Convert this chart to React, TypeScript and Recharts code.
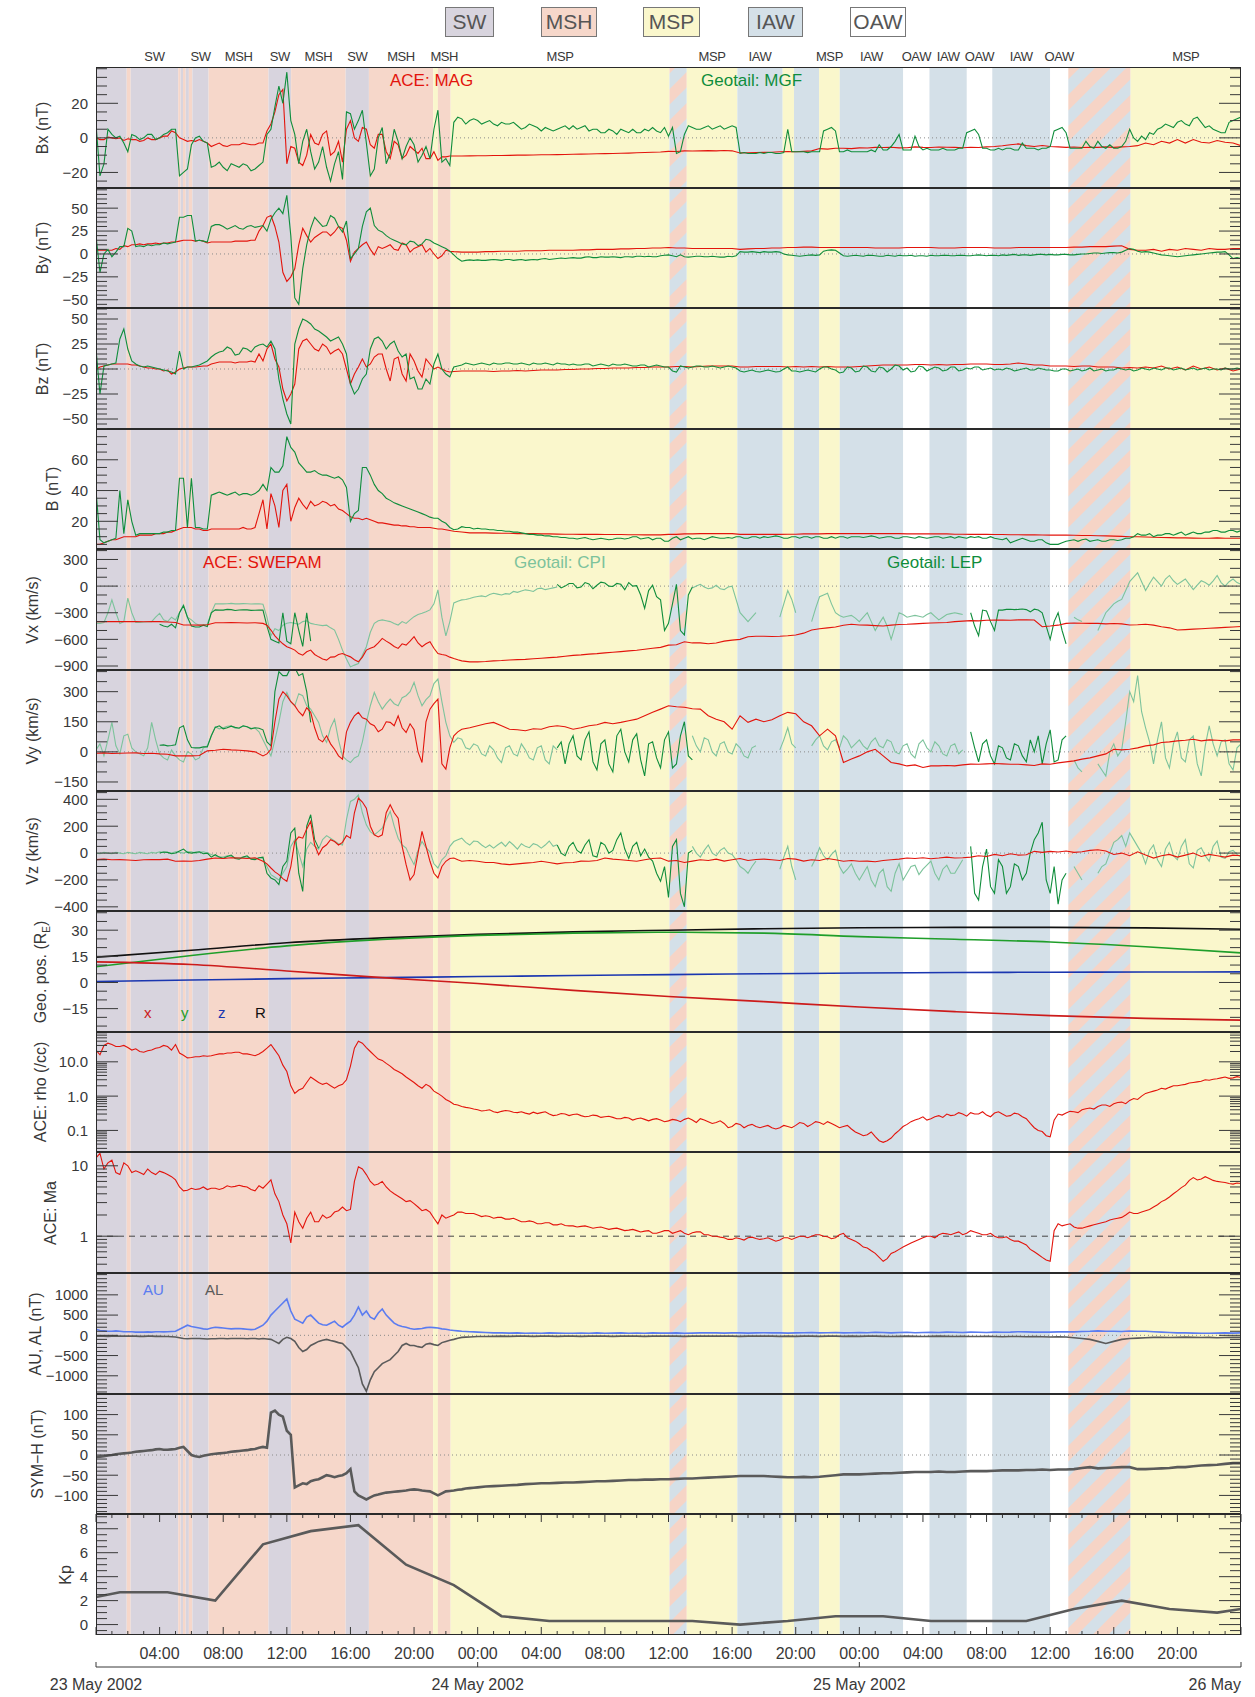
import React from "react";
import { LineChart, Line, XAxis, YAxis, ReferenceArea, ReferenceLine } from "recharts";

const W = 1255;
const PLOT_L = 96;
const PLOT_R = 1241;
const TOP0 = 67;
const PANEL_H = 120.6;
const FONT = "'Liberation Sans', Arial, sans-serif";
const INK = "#383838";

const RED = "#e3140c";
const GREEN = "#0f8d3b";
const LIGHT_GREEN = "#7dc39c";
const AU_BLUE = "#5b7cf0";
const GRAY_LINE = "#5a5a5a";

const BG: Record<string, string> = {
  SW: "#d8d4de",
  MSH: "#f6d7ca",
  MSP: "#faf7cc",
  IAW: "#d4e0e8",
  OAW: "#ffffff",
  MIX: "url(#mixHatch)",
};

// [kind, start hour, end hour, labelled]
const REGIONS: [string, number, number, boolean][] = [
  ["SW", 0, 1.93, false], ["MSH", 1.93, 2.18, false], ["SW", 2.18, 5.17, true],
  ["MSH", 5.17, 5.32, false], ["SW", 5.32, 5.47, false], ["MSH", 5.47, 5.64, false],
  ["SW", 5.64, 5.84, false], ["MSH", 5.84, 6.06, false], ["SW", 6.06, 7.08, true],
  ["MSH", 7.08, 10.85, true], ["SW", 10.85, 12.27, true], ["MSH", 12.27, 15.7, true],
  ["SW", 15.7, 17.16, true], ["MSH", 17.16, 21.2, true], ["MSP", 21.2, 21.5, false],
  ["MSH", 21.5, 22.3, true], ["MSP", 22.3, 36.06, true], ["MIX", 36.06, 37.15, false],
  ["MSP", 37.15, 40.33, true], ["IAW", 40.33, 43.18, true], ["MSP", 43.18, 43.89, false],
  ["IAW", 43.89, 45.47, false], ["MSP", 45.47, 46.77, true], ["IAW", 46.77, 50.76, true],
  ["OAW", 50.76, 52.41, true], ["IAW", 52.41, 54.76, true], ["OAW", 54.76, 56.36, true],
  ["IAW", 56.36, 60.0, true], ["OAW", 60.0, 61.14, true], ["MIX", 61.14, 65.06, false],
  ["MSP", 65.06, 72, true],
];

// half-hour sample times, 23 May 00:00 .. 26 May 00:00; *_MID arrays hold the quarter-past values
const HOURS = Array.from({ length: 145 }, (_, i) => i / 2);
const HOUR_TICKS = Array.from({ length: 73 }, (_, i) => i);
const DATE_TICKS = [0, 24, 48, 72];
const DATE_LABELS = ["23 May 2002", "24 May 2002", "25 May 2002", "26 May"];
const _ = null;

const BX_ACE = [
  0, -1, 0, 0, -0.5, -1, -1.5, -1, 0, 1, 3, -1,
  -1.5, -1, -3, -4, -4.5, -4, -4, -3.5, -4, -3, 8, 25,
  -15, -6, -16, 2, -4, 4, -8, -14, 10, -2, 5, -6,
  2, -12, -4, -10, -7, -6, -12, -13, -11, -10.5, -10.5, -10.4,
  -10.3, -10.3, -10.2, -10.2, -10.1, -10, -10, -9.9, -9.8, -9.8, -9.7, -9.6,
  -9.5, -9.4, -9.3, -9.2, -9.1, -9, -8.9, -8.8, -8.6, -8.5, -8.3, -8.2,
  -7.8, -7.9, -7.5, -7.6, -7.5, -7.4, -7.5, -7.3, -7.5, -8.7, -8.6, -8.5,
  -8.4, -8.3, -8, -7.9, -8, -7.8, -7.5, -6.2, -6.5, -6, -6, -6.2,
  -5.8, -5.9, -5.5, -5.6, -5.4, -5.8, -5.7, -5.2, -5.5, -5.6, -5.3, -5.4,
  -5.5, -5.7, -5.4, -5.6, -5.2, -5, -4.6, -4, -3.5, -4.5, -5, -4.4,
  -5, -5.2, -5.5, -5.3, -5.6, -5.4, -5.5, -5.2, -5.5, -5.2, -5, -4.5,
  -3, -4, -2, -3, -1, -3, -1, -2.5, -3, -1.5, -2.5, -3,
  -4.5,
];
const BX_ACE_MID = [
  -1, 0.5, -0.5, -1.5, -1, -2, 0, -1, 1, 4, 0, -2,
  -2, -2, -5, -3, -5, -4, -3, -4, -3, 4, 15, 28,
  -5, -14, -10, -3, 2, -10, -2, 5, 0, 6, -4, 2,
  -8, -2, -12, -5, -9, -12, -8, -11, -10.5,
];
const BX_GEO = [
  8, -15, 2, 1, -8, 1, 0, 2, 0, 3, 5, -20,
  -4, 1, -3, -16, -17, -15, -17, -16, -18, -14, 5, 30,
  38, 2, -2, -8, -14, -17, -15, -24, 14, 10, -3, -18,
  6, -9, -2, -5, -4, -10, -12, 16, -12, 9, 11, 10,
  10, 9, 8, 9, 8, 7, 6, 7, 4, 5, 5, 7,
  7, 6, 4, 5, 3, 4, 5, 3, 3, 5, 6, 3,
  1, -9, 2, 6, 5, 7, 6, 5, 7, -9, -9, -9,
  -9, -8.5, -9, 5, -8, -8, -8, -8, 5, 4, -8, -8,
  -8, -8, -8, -7, -5, 2, -7, 1, -7, -7, -7, -7,
  -7, -6, 4, 2, -6, -7, -7, -6, -7, -6, -6, -6,
  -5, 5, 3, -6, -6, -5, -2, -6, -6, -5, 5, -2,
  -1, 2, 6, 7, 9, 8, 11, 9, 7, 4, 3, 10,
  12,
];
const BX_GEO_MID = [
  -22, 5, 0, -3, 2, -1, 2, -1, 2, 5, -22, -18,
  0, -2, -17, -14, -19, -16, -15, -19, -16, 2, 18, 20,
  10, -15, 5, -18, -5, -25, -8, 15, 5, 16, -22, 0,
  -15, 5, -12, 0, -14, -5, 5, -14, -16, 12, 8, 11,
  8, 10, 7, 8, 9, 5, 8, 6, 6, 4, 6, 5,
  5, 7, 5, 3, 5, 2, 4, 5, 3, 4, 4, 6,
  6, -8, 7, 5, 6, 5, 7, 6, 6, -8.5, -9, -8.5,
  -8.5, -9, -8.5, -8, -8, -8.5, -8, 4, 6, -8, -7, -8,
  -8, -7, -4, -7, -2, -7, -7, -5, -6, -7, -6, -7,
  -6, 3, 5, -6, -7, -6, -6, -7, -3, -6, -7, -6,
  4, 6, -6, -6, -2, -6, -5, -4, -6, -2, 0, 1,
  3, 5, 8, 6, 10, 7, 12, 6, 5, 3, 9, 11,
];
const BY_ACE = [
  4, 4, 4, 5, 8, 10, 10, 11, 11, 12, 13, 15,
  15, 15, 12, 13, 13, 13, 14, 14, 15, 31, 42, 13,
  -30, -16, 28, 13, 21, 24, 24, 28, -8, 6, 13, -1,
  6, 10, 4, 10, 6, 10, 6, -5, 4, 2.5, 2, 2,
  2, 2.5, 2.5, 3, 3, 3, 3.5, 3.5, 3.5, 4, 4, 4,
  4, 4.5, 4.5, 5, 5, 5, 5.5, 5.5, 6, 6, 6.5, 6.5,
  7, 6.5, 6.5, 6, 6, 6, 6, 6, 6, 5, 5.5, 6,
  6, 6.5, 6.5, 7, 7, 7.5, 7.5, 7, 7, 7, 7, 7,
  7, 7, 6.5, 6.5, 6.5, 6.5, 7, 7, 7, 7, 6.5, 6.5,
  6.5, 7, 7, 7, 7, 6.5, 6.5, 6.5, 7, 7, 7, 7,
  7, 7, 7, 7.5, 7.5, 8, 8, 8, 8.5, 9, 5, 4,
  4, 5, 3, 5, 4, 6, 5, 4, 6, 5, 5, 6,
  6,
];
const BY_ACE_MID = [
  4, 4, 6, 9, 10, 11, 11, 12, 12, 13, 14, 15,
  14, 14, 13, 13, 13, 14, 14, 15, 25, 40, 30, -20,
  -25, 10, 20, 18, 24, 20, 30, 15, 2, 10, 5, 8,
  8, 5, 12, 2, 8, 2, 0, -2, 3,
];
const BY_GEO = [
  20, 0, -3, 8, 28, 8, 8, 9, 10, 11, 13, 40,
  42, 15, 13, 32, 30, 29, 28, 30, 29, 31, 38, 50,
  64, -48, -16, 28, 35, 31, 39, 24, -5, 6, 46, 31,
  24, 17, 13, 10, 13, 11, 15, 10, 6, -1, -8, -6.5,
  -6.5, -7, -6, -7, -6, -6.5, -7, -6, -5.5, -6, -5, -5,
  -4, -4.5, -3, -4, -3.5, -3, -4, -3, -2.5, -3, -3, -2,
  -1, -3, -3, -3, -2.5, -3, -3, -3.5, -3, 2.5, 2, 2,
  2.5, 2, 2, -1, -2, -2, -1, -1, 4, 4, -2, -2,
  -2, -1.5, -2, -2.5, -2, -1.5, -2, -2.5, -2, -1.5, -2, -1.5,
  -2, -1.5, -2, -1, -2, -1.5, -1, -1, -1.5, -1, -1, -0.5,
  -0.5, -1, -0.5, -1, 0, 0.5, 1, 1, 1.5, 2, 6, 3,
  2.5, 1, -1, -2, -3, -2, -1, 0, 1, 2, 2.5, -5,
  -5,
];
const BY_GEO_MID = [
  -20, 5, 2, 8, 25, 9, 10, 10, 12, 12, 40, 42,
  14, 14, 30, 32, 27, 31, 27, 31, 30, 25, 45, 44,
  20, -55, 10, 40, 30, 42, 30, 36, 0, 30, 50, 26,
  20, 15, 11, 14, 9, 16, 12, 8, 3, -5, -7, -7,
  -7, -6.5, -6.5, -6, -7, -6, -6.5, -6.5, -5, -5.5, -4.5, -4.5,
  -4.5, -3.5, -4, -3, -3.5, -3.5, -3, -3.5, -2.5, -2.5, -3, -1.5,
  -2, -1, -3.5, -2.5, -3, -2.5, -3.5, -2.5, -2, 2, 2.5, 1.5,
  2, 2.5, 0, -1.5, -2.5, -1.5, -1.5, 3, 4.5, 1, -2.5, -1.5,
  -2.5, -1.5, -2.5, -1.5, -2.5, -2, -1.5, -2, -2.5, -2, -1.5, -2,
  -1.5, -2, -1.5, -1.5, -1.5, -2, -1.5, -0.5, -1, -1.5, -0.5, -1,
  -1, -0.5, -1, -0.5, 0, 1, 0.5, 1.5, 1, 4, 5, 2,
  2, 0, -1.5, -2.5, -2.5, -1.5, -0.5, 0.5, 1.5, 2, -1, -4,
];
const BZ_ACE = [
  0, 3, 5, 5, 5, 4, 2, 1, 0, -1, -3, 1,
  2, 2.5, 3, 6, 7, 7, 7, 7, 7, 8, 25, 2,
  -32, -15, 28, 25, 18, 22, 18, 15, -15, 2, 2, 12,
  15, -12, 12, -12, 8, -8, 5, 2, -2, -2.5, -2, -2,
  -2, -2, -2.5, -2, -2, -1.5, -2, -1.5, -1, -1, -1, -0.5,
  -0.5, 0, 0, 0.5, 0.5, 1, 1, 1, 1.5, 1.5, 2, 2,
  2, 2.5, 2.5, 2, 2.5, 3, 3, 3, 3, 2, 2, 2.5,
  2.5, 2.5, 2.5, 2, 2.5, 2, 2.5, 2, 2.5, 2, 2, 2,
  2.5, 3, 3.5, 4, 4, 4, 4, 4.5, 4.5, 4, 4.5, 4,
  4.5, 4.5, 5, 5, 5, 4.5, 4.5, 5, 6, 5, 4, 4,
  3, 3, 3, 2.5, 3, 3, 2, 2, 2, 1, 1.5, 1,
  2, 1, 3, 0, 2, -1, 3, 0, 2, -1, 1, -2,
  0,
];
const BZ_ACE_MID = [
  2, 4, 5, 5, 4, 3, 1, 0, -2, -5, 0, 2,
  2, 3, 5, 7, 7, 6, 7, 8, 15, 20, 10, -20,
  -25, 20, 30, 20, 25, 15, 20, 0, -5, 10, 5, 15,
  0, 10, -5, 15, -2, 10, 0, 0, -3,
];
const BZ_GEO = [
  20, 3, 5, 30, 20, 5, 2, 2, 0, -2, -5, 0,
  2, 4, 8, 15, 18, 20, 15, 20, 22, 25, 28, -10,
  -45, 25, 50, 45, 38, 32, 30, 25, -15, -20, -5, 30,
  28, 25, 18, 15, -8, -20, -15, 15, -5, 2, 4, 5,
  5, 5, 6, 5, 6, 5, 5, 6, 5, 5, 6, 5,
  5, 4, 5, 4, 4, 5, 4, 4, 3, 4, 3, 3,
  2, -3, 2, 2, 3, 2, 2, 2, 2, -2, -2, -2.5,
  -2, -2, -2.5, 2, -2, -2, -2, 0, 2, -1, -3, 1,
  -2, 2, -3, 1, 0, 3, 1, -2, 2, 0, 1, -1,
  2, -1, 0, 2, 0, -1, -1, 0, -1, 1, -1, 0,
  -1, -2, 0, -1, -2, 1, -1, -2, -1, 0, 0, -1,
  0, 1, -1, 1, 0, -1, 1, 0, -1, 0, 1, 0,
  0,
];
const BZ_GEO_MID = [
  -25, 4, 6, 40, 8, 3, 3, 1, -1, -3, 18, 2,
  3, 6, 12, 17, 22, 14, 21, 17, 24, 22, 20, -30,
  -55, 40, 48, 40, 35, 28, 32, 15, -25, -10, 20, 32,
  20, 28, 12, -10, -20, -10, 5, 0, -8, 3, 6, 4,
  6, 4, 5, 6, 5, 6, 4, 5, 6, 4, 5, 4,
  4, 5, 3, 5, 3, 4, 5, 3, 4, 2, 4, 2,
  -2, 3, 1, 3, 2, 3, 1, 3, 1, -3, -1, -3,
  -1, -3, 0, -2, -3, -1, -3, 2, 0, -4, 2, -3,
  3, -2, 2, -3, 4, -1, -3, 3, -2, 2, -2, 2,
  -2, 1, 2, -1, 1, 0, 1, -2, 0, -1, 1, -1,
  -2, 0, -2, 0, -1, -2, 0, -1, 1, -1, -2, 1,
  -1, 0, 1, -1, 1, 0, -1, 1, 0, -1, 0, 1,
];
const B_ACE = [
  5, 6, 8, 9, 10, 10, 11, 11, 12, 13, 14, 16,
  16, 15, 14, 15, 15, 15, 15, 15, 16, 34, 38, 16,
  44, 29, 31, 33, 31, 32, 31, 27, 23, 22, 22, 20,
  19, 18, 17.5, 17, 16.5, 16, 16, 15, 14.5, 13.5, 13, 12.5,
  12.5, 12.5, 12.3, 12.2, 12.2, 12, 12, 12, 11.8, 11.8, 11.7, 11.6,
  11.6, 11.5, 11.5, 11.5, 11.4, 11.4, 11.4, 11.3, 11.3, 11.2, 11.2, 11.2,
  11.5, 11.5, 11.8, 11.8, 12, 12, 12, 12, 12, 11.5, 11.5, 11.5,
  11.5, 11.5, 11.5, 11.6, 11.6, 11.8, 11.8, 11.8, 12, 12, 12, 12,
  12, 12, 12, 12, 12, 12, 11.8, 11.8, 11.8, 11.8, 11.8, 11.8,
  11.6, 11.6, 11.5, 11.5, 11.5, 11.4, 11.4, 11.3, 11.3, 11.2, 11.2, 11.1,
  11, 11, 11, 10.9, 10.8, 10.8, 10.6, 10.5, 10.4, 10.2, 10, 10,
  9.8, 9.6, 9.5, 9.4, 9.2, 9.2, 9.1, 9, 9, 9.2, 9, 9,
  9,
];
const B_ACE_MID = [
  5, 7, 8, 10, 10, 11, 11, 12, 12, 13, 15, 16,
  15, 14, 15, 15, 15, 15, 16, 15, 25, 15, 30, 40,
  20, 35, 28, 30, 33, 30, 28, 25, 22, 21, 21, 19,
  18.5, 17.5, 17, 16.5, 16, 16, 15.5, 15, 14,
];
const B_GEO = [
  40, 6, 8, 40, 34, 11, 12, 12, 12, 13, 14, 48,
  48, 16, 15, 38, 38, 38, 37, 38, 38, 44, 55, 52,
  75, 65, 55, 52, 51, 50, 48, 47, 20, 27, 55, 44,
  38, 33.6, 31, 29, 27, 25, 22.7, 22, 18.7, 14.5, 16.5, 16,
  15.5, 15, 14.5, 14, 13.5, 13, 12, 11.5, 11, 10.5, 10, 9.5,
  9, 9, 8.7, 8.5, 8.5, 8.3, 9, 9, 10, 9, 8, 9,
  7, 10, 9, 8.5, 9, 9, 9.5, 9, 9, 10, 9, 10,
  10, 10, 10, 9, 10, 10, 9, 10, 9, 9, 10, 10,
  10, 10, 10, 9.5, 10, 9, 10, 9, 9.5, 9.5, 10, 9.5,
  9, 9.5, 10, 10, 9, 9, 8, 6, 8, 8, 7, 8,
  5, 5, 7, 8, 8, 7, 8, 7, 8, 8, 9, 12,
  11, 10, 11, 12, 12, 11, 13, 12, 13, 14, 13, 14,
  14,
];
const B_GEO_MID = [
  8, 7, 9, 12, 20, 12, 12, 12, 13, 14, 48, 16,
  16, 15, 37, 39, 37, 39, 38, 37, 40, 40, 52, 56,
  68, 58, 52, 53, 50, 49, 49, 42, 25, 55, 50, 40,
  35, 32, 30, 28, 26, 24, 22, 20, 16, 15, 16, 15,
  15, 14.5, 14, 13.5, 13, 12.5, 11.5, 11, 10.5, 10, 9.5, 9,
  8.5, 9.5, 8, 9, 8, 9, 8.5, 10, 8.5, 9.5, 9, 7,
  9, 8, 10, 9, 8, 10, 9, 9.5, 10, 9, 10, 9,
  9.5, 10.5, 9, 10, 9, 10, 10, 9, 10, 10, 9, 10,
  9.5, 10.5, 9, 10, 9, 10, 9.5, 10, 9, 10, 9, 10,
  10, 9, 9.5, 9, 10, 8.5, 9, 7, 9, 7, 8, 6,
  5, 6, 7.5, 7, 8.5, 7.5, 7, 8, 7.5, 9, 10, 11,
  12, 11, 12, 11, 13, 12, 12, 13, 14, 13, 14, 13,
];

const VX_ACE = [
  -400, -400, -400, -400, -400, -400, -402, -400, -400, -405, -410, -438,
  -438, -440, -435, -412, -412, -410, -412, -415, -412, -420, -495, -608,
  -683, -721, -778, -721, -797, -834, -797, -759, -797, -853, -721, -683,
  -589, -646, -702, -665, -570, -683, -627, -759, -778, -816, -842, -853,
  -853, -850, -842, -838, -832, -828, -825, -818, -812, -806, -800, -790,
  -780, -775, -766, -760, -752, -745, -738, -730, -722, -712, -700, -690,
  -665, -660, -627, -640, -640, -650, -640, -620, -608, -600, -570, -565,
  -565, -568, -565, -560, -551, -530, -495, -480, -470, -460, -440, -430,
  -438, -440, -445, -450, -440, -432, -430, -425, -420, -415, -412, -410,
  -400, -395, -389, -392, -385, -383, -381, -385, -380, -380, -382, -457,
  -450, -440, -420, -415, -418, -420, -420, -425, -422, -425, -438, -435,
  -430, -440, -457, -470, -495, -490, -485, -480, -475, -470, -465, -460,
  -455,
];
const VX_ACE_MID = [
  _, _, _, _, _, _, _, _, _, _, _, _,
  _, _, _, _, _, _, _, _, _, -440, -560, -650,
  -700, -760, -740, -770, -820, -800, -770, -780, -830, -800, -700, -640,
  -620, -680, -650, -620, -640, -650, -700, -770, -800, -830,
];
const VX_LEP = [
  _, _, _, _, _, _, _, _, -430, -460, -470, -220,
  -450, -460, -455, -268, -270, -265, -270, -268, -272, -270, -600, -640,
  -620, -300, -680, -620, _, _, _, _, _, _, _, _,
  _, _, _, _, _, _, _, _, _, _, _, _,
  _, _, _, _, _, _, _, _, _, _, 20, 0,
  30, -10, 25, 10, 35, -5, 20, 40, 5, -250, 10, -155,
  -420, 20, -550, -10, _, _, _, _, _, _, _, _,
  _, _, _, _, _, _, _, _, _, _, _, _,
  _, _, _, _, _, _, _, _, _, _, _, _,
  _, _, -300, -560, -280, -500, -270, -260, -262, -265, -260, -300,
  -600, -300, -650, _, _, _, _, _, _, _, _, _,
  _, _, _, _, _, _, _, _, _, _, _, _,
  _,
];
const VX_LEP_MID = [
  _, _, _, _, _, _, _, _, -450, -430, -300, -350,
  -460, -440, -300, -270, -262, -275, -266, -273, -270, -450, -620, -300,
  -650, -500, -300, _, _, _, _, _, _, _, _, _,
  _, _, _, _, _, _, _, _, _, _, _, _,
  _, _, _, _, _, _, _, _, _, _, -20, 30,
  -20, 40, -30, 45, 0, 30, -40, 0, -100, -50, -120, -500,
  -200, -500, -100, _, _, _, _, _, _, _, _, _,
  _, _, _, _, _, _, _, _, _, _, _, _,
  _, _, _, _, _, _, _, _, _, _, _, _,
  _, _, -450, -270, -400, -270, -262, -265, -258, -290, -270, -450,
  -400, -500,
];
const VX_CPI = [
  -420, -410, -155, -420, -136, -410, -405, -400, -306, -400, -380, -212,
  -380, -440, -430, -200, -200, -195, -200, -198, -200, -205, -560, -500,
  -419, -420, -400, -420, -438, -440, -495, -721, -910, -872, -683, -419,
  -381, -400, -438, -420, -344, -306, -268, -42, -560, -190, -155, -140,
  -117, -120, -80, -100, -90, -70, -42, -60, -23, -30, -10, _,
  _, _, _, _, _, _, _, _, _, _, _, _,
  _, _, _, -20, 20, -30, 10, -40, 0, -300, -400, -300,
  _, _, -350, -50, -300, _, -400, -120, -80, -300, -350, -330,
  -400, -300, -500, -350, -600, -300, -350, -330, -350, -300, -380, -320,
  -300, -320, _, _, _, _, _, _, _, _, _, _,
  _, _, _, -350, -400, _, -500, -300, -200, -150, 50, 150,
  -50, 100, 0, 120, 20, 80, -40, 60, 10, 120, 0, 80,
  20,
];
const VX_CPI_MID = [
  -420, -300, -300, -400, -300, -408, -402, -350, -380, -350, -300, -350,
  -420, -435, -300, -200, -198, -200, -197, -202, -199, -350, -480, -440,
  -410, -430, -390, -430, -445, -470, -600, -820, -890, -780, -520, -390,
  -390, -420, -400, -380, -320, -290, -200, -350, -400, -170, -150, -125,
  -110, -95, -90, -85, -60, -55, -50, -30, -40, -20, _, _,
  _, _, _, _, _, _, _, _, _, _, _, _,
  _, _, _, 0, -10, -20, -30, -10, -150, -350, -350, _,
  _, _, -200, -150, _, _, -250, -100, -200, -330, -340, -360,
  -350, -400, -420, -450, -450, -320, -340, -340, -320, -340, -350, -310,
  -310, _, _, _, _, _, _, _, _, _, _, _,
  _, _, _, -380, _, _, -400, -250, -170, -50, 100, 50,
  30, 50, 80, 60, 50, 20, 10, 40, 60, 40, 50, 40,
];

const VY_ACE = [
  -7, -5, -8, -7, -6, -5, -8, -7, -10, -12, -20, -20,
  -20, -18, 5, 8, 13, 10, 8, 5, 0, -20, 13, 263,
  280, 230, 180, 197, 63, 80, 13, -36, 147, 197, 163, 130,
  113, 147, 180, 97, 110, -53, 213, 263, -86, 80, 113, 120,
  130, 140, 147, 130, 113, 110, 105, 115, 113, 125, 130, 125,
  113, 120, 130, 135, 147, 140, 147, 155, 163, 180, 197, 213,
  230, 225, 222, 215, 213, 180, 163, 150, 113, 180, 147, 163,
  150, 160, 180, 197, 190, 150, 130, 80, 113, 80, -53, -36,
  -20, 0, 13, -20, -53, -60, -70, -65, -78, -70, -70, -68,
  -70, -65, -61, -62, -60, -58, -60, -62, -62, -65, -68, -60,
  -62, -55, -50, -45, -36, -30, -20, -10, 13, 10, 13, 20,
  30, 35, 47, 50, 55, 58, 63, 55, 60, 58, 55, 60,
  60,
];
const VY_ACE_MID = [
  _, _, _, _, _, _, _, _, _, _, _, _,
  _, _, _, _, _, _, _, _, _, -10, 150, 300,
  250, 200, 220, 120, 50, 40, -20, 100, 180, 170, 140, 100,
  150, 130, 120, 140, 0, 150, 240, -60, 20, 100,
];
const VY_LEP = [
  _, _, _, _, _, _, _, _, 33, 30, 35, 130,
  22, 20, 25, 122, 115, 128, 118, 125, 120, 110, 30, 400,
  380, 420, 390, 147, _, _, _, _, _, _, _, _,
  _, _, _, _, _, _, _, _, _, _, _, _,
  _, _, _, _, _, _, _, _, _, _, 20, -60,
  80, -40, 100, -90, 60, -100, 113, -50, 90, -120, 50, -80,
  100, -60, 150, -40, _, _, _, _, _, _, _, _,
  _, _, _, _, _, _, _, _, _, _, _, _,
  _, _, _, _, _, _, _, _, _, _, _, _,
  _, _, 100, -50, 60, -60, 20, -40, 30, -50, 0, -60,
  110, -40, 80, _, _, _, _, _, _, _, _, _,
  _, _, _, _, _, _, _, _, _, _, _, _,
  _,
];
const VY_LEP_MID = [
  _, _, _, _, _, _, _, _, 35, 32, 120, 60,
  20, 25, 80, 130, 120, 122, 130, 115, 118, 50, 300, 380,
  420, 380, 300, _, _, _, _, _, _, _, _, _,
  _, _, _, _, _, _, _, _, _, _, _, _,
  _, _, _, _, _, _, _, _, _, _, 50, 40,
  -20, 60, -50, 40, -60, 80, 0, 60, -40, 40, -30, 60,
  -80, 80, -20, _, _, _, _, _, _, _, _, _,
  _, _, _, _, _, _, _, _, _, _, _, _,
  _, _, _, _, _, _, _, _, _, _, _, _,
  _, _, 20, 40, -20, 30, -30, 40, -20, 60, 80, 40,
  -50, 60,
];
const VY_CPI = [
  10, -20, 147, -10, 88, 0, -20, 147, -10, -40, -20, -50,
  -10, -30, 30, 125, 120, 130, 120, 125, 118, 60, -20, 147,
  296, 230, 280, 213, 147, 47, 163, -20, -53, -20, 147, 296,
  213, 263, 230, 280, 346, 230, 280, 363, 147, 47, 63, 13,
  30, -20, 10, -53, 30, -20, 10, -40, 30, -60, 10, _,
  _, _, _, _, _, _, _, _, _, _, _, _,
  _, _, _, 80, 0, 60, -20, 50, -10, 20, -30, 30,
  _, _, 10, 120, 20, _, 30, 80, 10, 60, 80, 20,
  60, 13, 70, 20, 50, -10, 40, -30, 60, 0, 30, -20,
  40, 10, _, _, _, _, _, _, _, _, _, _,
  _, _, _, -40, -100, _, -60, -120, 40, 10, 300, 380,
  120, -60, 150, -80, 100, -50, 80, -120, 130, -20, 60, -90,
  40,
];
const VY_CPI_MID = [
  40, 60, 30, 80, 20, -10, 20, 60, -30, 10, -40, 0,
  -40, 20, 80, 115, 128, 118, 128, 118, 100, 20, 60, 250,
  250, 290, 230, 180, 80, 120, 60, -40, -30, 50, 230, 250,
  240, 240, 270, 300, 280, 260, 340, 250, 80, 70, 20, 40,
  -10, 30, -30, 20, -10, 40, -30, 20, -40, 30, _, _,
  _, _, _, _, _, _, _, _, _, _, _, _,
  _, _, _, 30, 70, 0, 40, 0, 40, -20, 20, _,
  _, _, 60, 40, _, _, 60, 30, 50, 20, 60, 40,
  30, 50, 30, 60, 0, 30, -10, 40, 20, 50, -10, 30,
  -10, _, _, _, _, _, _, _, _, _, _, _,
  _, _, _, -80, _, _, -90, 0, -20, 150, 250, 200,
  50, 60, -30, 40, -30, 60, -60, 30, 40, 50, -60, 20,
];

const VZ_ACE = [
  -49, -45, -50, -49, -52, -55, -50, -48, -49, -45, -61, -60,
  -61, -55, -45, -37, -40, -35, -37, -40, -35, -61, -111, -160,
  -210, 86, 111, 235, -12, 62, 86, 80, 111, 409, 334, 136,
  136, 359, 260, -86, -160, 161, -61, -185, -61, -37, -61, -55,
  -61, -70, -70, -80, -86, -80, -75, -70, -61, -70, -80, -72,
  -70, -60, -61, -55, -37, -45, -50, -55, -61, -50, -40, -37,
  -60, -55, -70, -60, -50, -55, -45, -60, -50, -40, -55, -48,
  -45, -50, -55, -40, -45, -60, -50, -55, -40, -50, -61, -55,
  -61, -60, -65, -55, -50, -45, -37, -40, -35, -42, -37, -30,
  -37, -35, -30, -20, -25, -10, -20, -5, -15, -12, 13, 5,
  13, 8, 15, 5, 10, 20, 25, 15, -10, 0, -20, 10,
  -15, -37, -20, -10, -30, -15, 0, -25, -10, -20, -30, -15,
  -20,
];
const VZ_ACE_MID = [
  _, _, _, _, _, _, _, _, _, _, _, _,
  _, _, _, _, _, _, _, _, _, -80, -140, -190,
  -100, 120, 180, 60, 40, 100, 60, 130, 300, 380, 200, 120,
  300, 300, 50, -200, 0, 50, -150, -100, -40, -50,
];
const VZ_LEP = [
  _, _, _, _, _, _, _, _, 0, 5, 0, 30,
  0, 10, 0, -12, -40, -15, -45, -20, -49, -30, -185, -235,
  -60, 186, -285, 285, 37, _, _, _, _, _, _, _,
  _, _, _, _, _, _, _, _, _, _, _, _,
  _, _, _, _, _, _, _, _, _, _, 60, -20,
  80, 0, 100, -30, 60, 20, 150, -40, 80, 30, -60, -210,
  -330, 100, -400, 20, _, _, _, _, _, _, _, _,
  _, _, _, _, _, _, _, _, _, _, _, _,
  _, _, _, _, _, _, _, _, _, _, _, _,
  _, _, 50, -350, 30, -300, -100, -250, -100, -150, 100, 230,
  -300, -380, -150, _, _, _, _, _, _, _, _, _,
  _, _, _, _, _, _, _, _, _, _, _, _,
  _,
];
const VZ_LEP_MID = [
  _, _, _, _, _, _, _, _, 8, -5, 15, 5,
  5, -5, -30, -30, -25, -40, -30, -45, -35, -150, -200, -100,
  150, -150, 200, 100, _, _, _, _, _, _, _, _,
  _, _, _, _, _, _, _, _, _, _, _, _,
  _, _, _, _, _, _, _, _, _, _, 0, 50,
  20, 60, -20, 80, 0, 100, 30, 50, -20, -30, -150, -100,
  50, -300, 0, _, _, _, _, _, _, _, _, _,
  _, _, _, _, _, _, _, _, _, _, _, _,
  _, _, _, _, _, _, _, _, _, _, _, _,
  _, _, -300, -100, -250, -50, -300, -80, -200, 0, 150, -200,
  -100, -200,
];
const VZ_CPI = [
  0, 5, -5, 0, 5, -5, 0, 5, 10, 5, 10, 0,
  10, 5, 0, -20, -30, -25, -35, -30, -40, -40, -160, -200,
  -100, 100, -100, 80, 30, 130, 90, 60, 384, 433, 210, 136,
  186, 310, 111, 37, -86, 86, 10, -111, -20, 86, 111, 60,
  86, 40, 37, 80, 86, 30, 50, 70, 37, 90, 62, _,
  _, _, _, _, _, _, _, _, _, _, _, _,
  _, _, _, 50, -30, 60, -20, 40, -10, -100, -150, -60,
  _, _, -120, 50, -200, _, -100, 40, -50, 20, -150, -80,
  -200, -100, -250, -120, -285, -80, -150, -90, -120, -60, -200, -90,
  -150, -50, _, _, _, _, _, _, _, _, _, _,
  _, _, _, -100, -200, _, -150, -80, 80, 130, 150, 50,
  -80, 60, -100, 80, -50, 100, -111, 40, -60, 90, -40, 20,
  -30,
];
const VZ_CPI_MID = [
  -5, 0, 5, -5, 0, 5, -5, 0, 5, 0, 5, 10,
  0, 10, -10, -30, -20, -35, -30, -40, -35, -100, -180, -150,
  50, 0, 30, 50, 100, 110, 70, 250, 400, 300, 160, 160,
  250, 200, 60, -30, 20, 40, -80, -50, 50, 100, 80, 90,
  60, 60, 60, 50, 60, 70, 40, 60, 60, 50, _, _,
  _, _, _, _, _, _, _, _, _, _, _, _,
  _, _, _, 0, 20, 0, 20, 0, -50, -120, -100, _,
  _, _, -30, -100, _, _, -40, -20, -10, -100, -120, -150,
  -150, -200, -150, -250, -150, -200, -100, -160, -90, -150, -120, -150,
  -100, _, _, _, _, _, _, _, _, _, _, _,
  _, _, _, -150, _, _, -100, 0, 100, 50, 100, 0,
  20, -50, 30, -20, 50, -80, 20, -20, 50, -30, 10, -10,
];

// Geotail position, every 6 h
const GEO_T = [0, 6, 12, 18, 24, 30, 36, 42, 48, 54, 60, 66, 72];
const GEO_X = [11.8, 10.3, 6.6, 2.8, -0.6, -4.5, -8, -11, -14.1, -16.7, -19, -20.6, -21.6];
const GEO_Y = [9, 15.5, 21, 24.7, 27, 28.3, 28.8, 28.3, 26.3, 24.8, 23.2, 20.5, 17];
const GEO_Z = [0.6, 1.4, 2.2, 2.8, 3.4, 4, 4.5, 5, 5.4, 5.7, 5.9, 6, 6.1];
const GEO_R = [14.5, 18.5, 22.8, 25.6, 27.6, 29, 30, 30.8, 31.4, 31.6, 31.6, 31.3, 30.5];

const RHO = [
  22, 30, 32, 28, 26, 24, 19, 22, 26, 28, 32, 15.5,
  13.4, 14, 14.5, 16, 17, 18, 19, 17, 15, 20, 32, 15,
  5.2, 1.2, 1.7, 3.6, 2.5, 2.4, 1.7, 2.2, 7.5, 40, 26, 15.5,
  11, 7.5, 5.2, 3.6, 2.5, 1.7, 1.9, 1.2, 0.8, 0.58, 0.5, 0.45,
  0.4, 0.38, 0.35, 0.36, 0.37, 0.33, 0.32, 0.34, 0.33, 0.3, 0.28, 0.3,
  0.29, 0.27, 0.26, 0.27, 0.25, 0.24, 0.22, 0.23, 0.22, 0.21, 0.21, 0.2,
  0.19, 0.2, 0.21, 0.2, 0.22, 0.18, 0.17, 0.16, 0.13, 0.15, 0.14, 0.13,
  0.13, 0.12, 0.12, 0.13, 0.14, 0.16, 0.15, 0.17, 0.18, 0.14, 0.13, 0.11,
  0.08, 0.075, 0.066, 0.045, 0.06, 0.1, 0.15, 0.2, 0.25, 0.22, 0.27, 0.3,
  0.28, 0.3, 0.33, 0.3, 0.28, 0.32, 0.3, 0.27, 0.3, 0.22, 0.12, 0.093,
  0.065, 0.3, 0.32, 0.35, 0.4, 0.45, 0.5, 0.55, 0.6, 0.67, 0.75, 0.8,
  1.2, 1.4, 1.7, 1.8, 2, 2.2, 2.5, 2.7, 2.9, 3.2, 3.6, 3.4,
  3.5,
];
const RHO_MID = [
  16, 35, 28, 30, 22, 20, 21, 25, 30, 22, 18, 13,
  14, 15, 15, 17, 18, 19, 17, 16, 17, 25, 22, 8,
  2, 1.5, 2.5, 3, 2.2, 2, 2, 3, 25, 35, 20, 12,
  9, 6, 4.5, 3, 2, 2.2, 1.4, 1, 0.7, 0.55, 0.47, 0.42,
  0.37, 0.4, 0.33, 0.38, 0.34, 0.35, 0.3, 0.31, 0.35, 0.27, 0.31, 0.27,
  0.3, 0.25, 0.28, 0.24, 0.26, 0.22, 0.24, 0.2, 0.23, 0.19, 0.22, 0.18,
  0.21, 0.18, 0.23, 0.17, 0.2, 0.16, 0.19, 0.12, 0.16, 0.12, 0.15, 0.12,
  0.14, 0.11, 0.14, 0.12, 0.17, 0.13, 0.18, 0.15, 0.16, 0.12, 0.14, 0.09,
  0.07, 0.09, 0.05, 0.05, 0.08, 0.13, 0.18, 0.22, 0.2, 0.25, 0.24, 0.27,
  0.33, 0.26, 0.3, 0.35, 0.25, 0.35, 0.26, 0.32, 0.25, 0.16, 0.1, 0.07,
  0.2, 0.28, 0.36, 0.33, 0.43, 0.42, 0.55, 0.5, 0.65, 0.6, 0.85, 1,
  1.3, 1.5, 1.6, 2, 2.1, 2.4, 2.6, 3, 3.1, 3.4, 3.3, 3.7,
];
const MA = [
  13, 9, 12, 7.5, 10, 8.5, 7.5, 8, 8.4, 7.5, 6.3, 4.4,
  4.8, 4.7, 4.6, 4.8, 4.8, 5, 5.3, 5, 4.4, 4.8, 6.3, 3.1,
  1.5, 2.2, 1.3, 2.2, 1.6, 1.8, 2.2, 2.6, 2.4, 9.7, 7.5, 5.3,
  6, 4.4, 3.7, 3.1, 2.9, 2.3, 2.2, 1.5, 1.8, 2, 2.2, 2.1,
  2, 1.95, 1.8, 1.85, 1.75, 1.7, 1.6, 1.6, 1.5, 1.55, 1.45, 1.42,
  1.4, 1.38, 1.35, 1.33, 1.3, 1.28, 1.25, 1.22, 1.2, 1.18, 1.1, 1.15,
  1.2, 1.15, 1.1, 1.12, 1.15, 1.05, 1, 0.95, 0.9, 0.92, 0.95, 0.93,
  0.92, 0.9, 0.88, 0.95, 0.95, 1, 1, 1.05, 0.98, 0.95, 1.1, 0.9,
  0.78, 0.68, 0.57, 0.44, 0.57, 0.65, 0.75, 0.85, 0.95, 1, 1.05, 1.08,
  1.1, 1.05, 1.2, 1.1, 1.05, 1, 0.95, 0.9, 0.85, 0.75, 0.6, 0.5,
  0.44, 1.5, 1.45, 1.35, 1.3, 1.4, 1.5, 1.6, 1.75, 1.85, 2.2, 2.1,
  2.3, 2.6, 3.1, 3.6, 4.4, 5.3, 6.8, 6.5, 6.6, 6, 5.8, 5.5,
  5.6,
];
const MA_MID = [
  15, 11, 8, 11, 8, 8, 9, 7.5, 8, 7, 5, 4.5,
  4.6, 5, 4.8, 4.6, 5.2, 5.1, 5.1, 4.6, 5.2, 5.5, 4, 2,
  0.8, 1.6, 1.8, 1.6, 2, 1.9, 2.3, 2.3, 6, 9, 6, 5.5,
  5, 4, 3.4, 3.2, 2.6, 2.4, 1.8, 2, 1.9, 2.2, 2.1, 2.1,
  1.9, 1.9, 1.85, 1.75, 1.8, 1.6, 1.65, 1.5, 1.55, 1.45, 1.5, 1.4,
  1.35, 1.4, 1.3, 1.35, 1.25, 1.3, 1.2, 1.25, 1.15, 1.2, 1.1, 1.2,
  1.1, 1.2, 1.05, 1.15, 1.05, 1, 0.97, 0.9, 0.95, 0.88, 0.97, 0.9,
  0.95, 0.85, 0.95, 0.9, 1, 0.95, 1.05, 1, 0.92, 1.05, 0.95, 0.85,
  0.7, 0.62, 0.5, 0.48, 0.6, 0.7, 0.8, 0.9, 1, 0.95, 1.1, 1.05,
  1.15, 1.1, 1.15, 1.05, 1.1, 0.95, 0.98, 0.85, 0.8, 0.65, 0.55, 0.46,
  1.2, 1.4, 1.5, 1.3, 1.35, 1.45, 1.55, 1.7, 1.8, 2, 2.1, 2.2,
  2.4, 2.8, 3.3, 4, 4.9, 6.2, 6.3, 7, 6.2, 5.9, 5.6, 5.7,
];

const AU = [
  150, 110, 100, 100, 90, 80, 80, 80, 90, 90, 100, 200,
  220, 180, 150, 200, 180, 160, 170, 150, 150, 250, 500, 700,
  900, 400, 300, 500, 300, 250, 350, 200, 350, 700, 600, 400,
  650, 400, 250, 200, 150, 170, 200, 180, 150, 120, 100, 90,
  80, 70, 60, 60, 55, 60, 50, 55, 50, 60, 55, 50,
  50, 55, 50, 60, 50, 55, 60, 50, 55, 50, 60, 55,
  55, 60, 50, 55, 60, 65, 60, 55, 60, 60, 55, 60,
  65, 60, 60, 55, 60, 65, 70, 60, 65, 70, 60, 65,
  70, 65, 75, 70, 60, 70, 75, 65, 70, 75, 70, 80,
  75, 70, 80, 75, 70, 80, 75, 80, 90, 85, 80, 80,
  80, 85, 90, 85, 95, 100, 110, 100, 100, 95, 105, 100,
  100, 90, 80, 70, 60, 60, 55, 50, 50, 55, 60, 55,
  60,
];
const AU_MID = [
  120, 100, 110, 90, 90, 80, 85, 90, 85, 95, 150, 250,
  200, 160, 180, 190, 170, 165, 160, 140, 200, 350, 600, 800,
  600, 350, 450, 400, 260, 300, 250, 280, 500, 500, 450, 550,
  500, 300, 220, 170, 160, 190, 190, 160, 130, 110, 95, 85,
];
const AL = [
  -20, -20, -20, -15, -20, -20, -25, -20, -25, -30, -40, -80,
  -80, -80, -90, -85, -80, -80, -80, -85, -80, -80, -100, -200,
  -50, -150, -400, -250, -150, -100, -150, -200, -400, -800, -1380, -900,
  -700, -600, -400, -200, -250, -300, -200, -250, -150, -100, -50, -40,
  -30, -30, -25, -20, -25, -20, -20, -25, -20, -20, -25, -20,
  -20, -25, -20, -20, -20, -25, -20, -20, -20, -25, -20, -20,
  -20, -20, -25, -20, -20, -20, -15, -20, -20, -25, -20, -20,
  -20, -20, -25, -20, -25, -20, -20, -25, -20, -20, -25, -20,
  -25, -20, -20, -25, -30, -25, -20, -25, -30, -25, -20, -25,
  -30, -25, -30, -30, -25, -30, -35, -30, -30, -35, -30, -35,
  -40, -35, -40, -60, -80, -100, -150, -200, -150, -100, -80, -70,
  -60, -50, -50, -55, -50, -45, -50, -55, -50, -60, -55, -50,
  -50,
];
const AL_MID = [
  -20, -25, -20, -20, -20, -25, -20, -25, -30, -35, -60, -85,
  -80, -85, -85, -80, -85, -80, -80, -80, -90, -90, -150, -100,
  -80, -300, -350, -200, -120, -130, -180, -300, -600, -1200, -1100, -800,
  -650, -500, -250, -250, -280, -220, -230, -180, -120, -70, -45, -35,
];
const SYMH = [
  -5, -3, 0, 3, 5, 8, 10, 12, 15, 13, 15, 20,
  0, -5, 0, 3, 5, 8, 10, 12, 15, 20, 105, 100,
  60, -80, -70, -65, -60, -50, -55, -50, -35, -100, -110, -100,
  -95, -92, -90, -88, -85, -88, -90, -100, -90, -88, -85, -82,
  -80, -78, -77, -76, -75, -74, -72, -71, -70, -70, -69, -68,
  -68, -67, -66, -65, -65, -64, -63, -62, -62, -61, -61, -60,
  -60, -59, -58, -58, -57, -56, -55, -54, -53, -52, -52, -52,
  -52, -53, -54, -55, -55, -54, -55, -54, -52, -50, -48, -48,
  -48, -47, -46, -45, -45, -44, -43, -42, -42, -42, -41, -42,
  -42, -41, -40, -40, -40, -39, -38, -38, -38, -37, -37, -36,
  -37, -36, -36, -35, -32, -30, -33, -32, -31, -30, -30, -35,
  -35, -34, -33, -32, -30, -30, -28, -26, -25, -24, -22, -20,
  -20,
];
const SYMH_MID = [
  -4, -1, 2, 4, 6, 9, 11, 14, 13, 14, 18, 10,
  -3, -2, 2, 4, 6, 9, 11, 14, 18, 18, 110, 95,
  50, -75, -72, -62, -55, -52, -52, -45, -90, -105, -105, -98,
  -93, -91, -89, -86, -86, -89, -95, -95, -89, -86, -83, -81,
];

// Kp, 3-hour values plotted at interval centres
const KP_T = [0, 1.5, 4.5, 7.5, 10.5, 13.5, 16.5, 19.5, 22.5, 25.5, 28.5, 31.5, 34.5, 37.5, 40.5, 43.5, 46.5, 49.5, 52.5, 55.5, 58.5, 61.5, 64.5, 67.5, 70.5, 72];
const KP = [2.3, 2.7, 2.7, 2.0, 6.7, 7.8, 8.3, 5.0, 3.3, 0.7, 0.3, 0.3, 0.3, 0.3, 0.0, 0.3, 0.7, 0.7, 0.3, 0.3, 0.3, 1.3, 2.0, 1.3, 1.0, 1.3];

type Pt = { t: number; v: number | null };
const pts = (vals: (number | null)[], times: number[] = HOURS): Pt[] => vals.map((v, i) => ({ t: times[i], v }));
// interleave the half-hour values with the quarter-past readings
const dense = (base: (number | null)[], mid: (number | null)[]): Pt[] => {
  const out: Pt[] = [];
  base.forEach((v, i) => {
    out.push({ t: HOURS[i], v });
    const m = i < mid.length ? mid[i] : null;
    if (m !== null && v !== null && base[i + 1] != null) out.push({ t: HOURS[i] + 0.25, v: m });
  });
  return out;
};

type Series = { data: Pt[]; color: string; width?: number; smooth?: boolean };
type Panel = {
  title: React.ReactNode;
  titleX: number;
  domain: [number, number];
  log?: boolean;
  majors: number[];
  ticks: number[];
  fmt?: (v: number) => string;
  zero?: boolean;
  unityDash?: boolean;
  series: Series[];
};

const steps = (a: number, b: number, s: number) => {
  const out: number[] = [];
  for (let v = a; v <= b + 1e-9; v += s) out.push(Math.round(v * 1000) / 1000);
  return out;
};
const logTicks = (lo: number, hi: number) => {
  const out: number[] = [];
  for (let e = -3; e <= 3; e++) for (let m = 1; m <= 9; m++) {
    const v = m * Math.pow(10, e);
    if (v >= lo && v <= hi) out.push(Number(v.toPrecision(3)));
  }
  return out;
};
const fmtNum = (v: number) => (v < 0 ? "\u2212" + Math.abs(v) : String(v));

const PANELS: Panel[] = [
  { title: "Bx (nT)", titleX: 43, domain: [-29, 41], majors: [-20, 0, 20], ticks: steps(-25, 40, 5), zero: true,
    series: [{ data: dense(BX_ACE, BX_ACE_MID), color: RED }, { data: dense(BX_GEO, BX_GEO_MID), color: GREEN }] },
  { title: "By (nT)", titleX: 43, domain: [-59, 72], majors: [-50, -25, 0, 25, 50], ticks: steps(-55, 70, 5), zero: true,
    series: [{ data: dense(BY_ACE, BY_ACE_MID), color: RED }, { data: dense(BY_GEO, BY_GEO_MID), color: GREEN }] },
  { title: "Bz (nT)", titleX: 43, domain: [-60, 61], majors: [-50, -25, 0, 25, 50], ticks: steps(-60, 60, 5), zero: true,
    series: [{ data: dense(BZ_ACE, BZ_ACE_MID), color: RED }, { data: dense(BZ_GEO, BZ_GEO_MID), color: GREEN }] },
  { title: "B (nT)", titleX: 53, domain: [2, 80], majors: [20, 40, 60], ticks: steps(5, 80, 5),
    series: [{ data: dense(B_ACE, B_ACE_MID), color: RED }, { data: dense(B_GEO, B_GEO_MID), color: GREEN }] },
  { title: "Vx (km/s)", titleX: 33, domain: [-945, 418], majors: [-900, -600, -300, 0, 300], ticks: steps(-900, 400, 100), zero: true,
    series: [
      { data: dense(VX_CPI, VX_CPI_MID), color: LIGHT_GREEN },
      { data: dense(VX_LEP, VX_LEP_MID), color: GREEN },
      { data: dense(VX_ACE, VX_ACE_MID), color: RED },
    ] },
  { title: "Vy (km/s)", titleX: 33, domain: [-195, 408], majors: [-150, 0, 150, 300], ticks: steps(-150, 400, 50), zero: true,
    series: [
      { data: dense(VY_CPI, VY_CPI_MID), color: LIGHT_GREEN },
      { data: dense(VY_LEP, VY_LEP_MID), color: GREEN },
      { data: dense(VY_ACE, VY_ACE_MID), color: RED },
    ] },
  { title: "Vz (km/s)", titleX: 33, domain: [-431, 462], majors: [-400, -200, 0, 200, 400], ticks: steps(-400, 450, 50), zero: true,
    series: [
      { data: dense(VZ_CPI, VZ_CPI_MID), color: LIGHT_GREEN },
      { data: dense(VZ_LEP, VZ_LEP_MID), color: GREEN },
      { data: dense(VZ_ACE, VZ_ACE_MID), color: RED },
    ] },
  { title: <span>Geo. pos. (R<sub style={{ fontSize: 10 }}>E</sub>)</span>, titleX: 42, domain: [-28.4, 41], majors: [-15, 0, 15, 30], ticks: steps(-25, 40, 5),
    series: [
      { data: pts(GEO_R, GEO_T), color: "#111", width: 1.6, smooth: true },
      { data: pts(GEO_Y, GEO_T), color: "#1f9e2a", width: 1.6, smooth: true },
      { data: pts(GEO_Z, GEO_T), color: "#1a36b0", width: 1.6, smooth: true },
      { data: pts(GEO_X, GEO_T), color: "#cc1b1b", width: 1.6, smooth: true },
    ] },
  { title: "ACE: rho (/cc)", titleX: 41, domain: [0.0235, 74], log: true, majors: [0.1, 1, 10], ticks: logTicks(0.0235, 74), fmt: (v) => v.toFixed(1),
    series: [{ data: dense(RHO, RHO_MID), color: RED }] },
  { title: "ACE: Ma", titleX: 51, domain: [0.3, 15.7], log: true, majors: [1, 10], ticks: logTicks(0.3, 15.7), unityDash: true,
    series: [{ data: dense(MA, MA_MID), color: RED }] },
  { title: "AU, AL (nT)", titleX: 36, domain: [-1450, 1540], majors: [-1000, -500, 0, 500, 1000], ticks: steps(-1400, 1500, 100), zero: true,
    series: [{ data: dense(AL, AL_MID), color: GRAY_LINE, width: 1.6 }, { data: dense(AU, AU_MID), color: AU_BLUE, width: 1.6 }] },
  { title: "SYM\u2212H (nT)", titleX: 38, domain: [-146, 151], majors: [-100, -50, 0, 50, 100], ticks: steps(-140, 150, 10), zero: true,
    series: [{ data: dense(SYMH, SYMH_MID), color: GRAY_LINE, width: 2.6 }] },
  { title: "Kp", titleX: 66, domain: [-0.87, 9.23], majors: [0, 2, 4, 6, 8], ticks: steps(-0.5, 9, 0.5),
    series: [{ data: pts(KP, KP_T), color: GRAY_LINE, width: 2.6 }] },
];

const LEGEND: [string, number, number][] = [
  ["SW", 445, 494], ["MSH", 541, 597], ["MSP", 643, 700], ["IAW", 748, 803], ["OAW", 850, 906],
];

// in-panel captions: text, left x, centre y, colour
const NOTES: [string, number, number, string][] = [
  ["ACE: MAG", 390, 81, RED],
  ["Geotail: MGF", 701, 81, GREEN],
  ["ACE: SWEPAM", 203, 563, RED],
  ["Geotail: CPI", 514, 563, LIGHT_GREEN],
  ["Geotail: LEP", 887, 563, GREEN],
  ["x", 144, 1012, "#cc1b1b"],
  ["y", 181, 1012, "#1f9e2a"],
  ["z", 218, 1012, "#1a36b0"],
  ["R", 255, 1012, "#111"],
  ["AU", 143, 1289, AU_BLUE],
  ["AL", 205, 1289, GRAY_LINE],
];

const hh = (t: number) => String(t % 24).padStart(2, "0") + ":00";

function PanelChart({ p, k }: { p: Panel; k: number }) {
  const top = Math.round(TOP0 + k * PANEL_H);
  const h = Math.round(TOP0 + (k + 1) * PANEL_H) - top;
  const first = k === 0;
  const last = k === PANELS.length - 1;
  const mt = first ? 24 : 0;
  const xh = last ? 32 : 0;
  const dh = last ? 30 : 0;
  const plotTop = mt;
  const plotBottom = mt + h;
  const [lo, hi] = p.domain;
  const ticks = p.ticks.filter((v) => v >= lo && v <= hi);
  const isMajor = (v: number) => p.majors.some((m) => Math.abs(m - v) < 1e-6 * Math.max(1, Math.abs(m)));
  const fmt = p.fmt ?? fmtNum;

  const yTick = (props: any) => {
    const { y, payload } = props;
    const v = payload.value as number;
    const major = isMajor(v);
    const len = major ? 22 : 11;
    return (
      <g>
        <line x1={PLOT_L} x2={PLOT_L + len} y1={y} y2={y} stroke={INK} strokeWidth={1} />
        <line x1={PLOT_R - len} x2={PLOT_R} y1={y} y2={y} stroke={INK} strokeWidth={1} />
        {major && (
          <text x={88} y={y} dy="0.36em" textAnchor="end" fontSize={15} fill={INK} fontFamily={FONT}>
            {fmt(v)}
          </text>
        )}
      </g>
    );
  };

  // hourly ticks on top and bottom frame; the last panel also carries the time and date labels
  const xTick = (props: any) => {
    const { x, payload } = props;
    const t = payload.value as number;
    const major = t % 4 === 0;
    const len = major ? 8 : 4;
    const di = DATE_TICKS.indexOf(t);
    const dateY = plotBottom + xh;
    return (
      <g>
        <line x1={x} x2={x} y1={plotTop} y2={plotTop + len} stroke={INK} strokeWidth={1} />
        <line x1={x} x2={x} y1={plotBottom - len} y2={plotBottom} stroke={INK} strokeWidth={1} />
        {last && major && t > 0 && t < 72 && (
          <text x={x} y={plotBottom + 18} dy="0.36em" textAnchor="middle" fontSize={16} fill={INK} fontFamily={FONT}>
            {hh(t)}
          </text>
        )}
        {last && di >= 0 && (
          <g>
            <line x1={x} x2={x} y1={dateY} y2={dateY - 5} stroke={INK} strokeWidth={1} />
            <text x={x} y={dateY + 17} dy="0.36em" textAnchor={di === DATE_TICKS.length - 1 ? "end" : "middle"} fontSize={16} fill={INK} fontFamily={FONT}>
              {DATE_LABELS[di]}
            </text>
          </g>
        )}
      </g>
    );
  };

  return (
    <>
      <div style={{ position: "absolute", left: 0, top: top - mt }}>
        <LineChart width={W} height={mt + h + xh + dh} margin={{ top: mt, right: W - PLOT_R, bottom: 0, left: 0 }}>
          {REGIONS.map(([kind, a, b, lab], i) => (
            <ReferenceArea
              key={i}
              x1={a}
              x2={b}
              fill={BG[kind]}
              fillOpacity={1}
              stroke="none"
              label={first && lab ? { value: kind, position: "top", offset: 6, fill: INK, fontSize: 13, fontFamily: FONT, letterSpacing: -0.4 } : undefined}
            />
          ))}
          {p.zero && <ReferenceLine y={0} stroke="#8a8a8a" strokeDasharray="1 3" strokeWidth={1} />}
          {p.unityDash && <ReferenceLine y={1} stroke="#444" strokeDasharray="6 5" strokeWidth={1} />}
          <XAxis
            type="number"
            dataKey="t"
            domain={[0, 72]}
            allowDataOverflow
            ticks={HOUR_TICKS}
            interval={0}
            height={xh}
            tick={xTick}
            tickLine={false}
            axisLine={false}
          />
          {last && (
            <XAxis
              xAxisId="date"
              type="number"
              domain={[0, 72]}
              allowDataOverflow
              ticks={DATE_TICKS}
              interval={0}
              height={dh}
              tick={false}
              tickLine={false}
              axisLine={{ stroke: INK, strokeWidth: 1 }}
            />
          )}
          <YAxis
            type="number"
            scale={p.log ? "log" : "linear"}
            domain={p.domain}
            allowDataOverflow
            ticks={ticks}
            interval={0}
            width={PLOT_L}
            tick={yTick}
            tickLine={false}
            axisLine={false}
          />
          {p.series.map((s, i) => (
            <Line
              key={i}
              data={s.data}
              dataKey="v"
              type={s.smooth ? "monotone" : "linear"}
              stroke={s.color}
              strokeWidth={s.width ?? 1.1}
              dot={false}
              activeDot={false}
              connectNulls={false}
              isAnimationActive={false}
            />
          ))}
        </LineChart>
      </div>
      <div
        style={{
          position: "absolute",
          left: PLOT_L,
          top,
          width: PLOT_R - PLOT_L,
          height: h,
          border: "1.4px solid #2a2a2a",
          boxSizing: "border-box",
          pointerEvents: "none",
        }}
      />
      <div
        style={{
          position: "absolute",
          left: p.titleX,
          top: top + h / 2,
          transform: "translate(-50%, -50%) rotate(-90deg)",
          whiteSpace: "nowrap",
          fontSize: 16,
          color: INK,
        }}
      >
        {p.title}
      </div>
    </>
  );
}

export default function App() {
  return (
    <div style={{ position: "absolute", left: 0, top: 0, width: W, height: 1697, background: "#fff", fontFamily: FONT, color: INK }}>
      <style>{".recharts-surface{overflow:visible}"}</style>
      <svg width={0} height={0} style={{ position: "absolute" }}>
        <defs>
          <pattern id="mixHatch" patternUnits="userSpaceOnUse" width={22} height={22} patternTransform="rotate(45)">
            <rect x={0} y={0} width={22} height={22} fill="#d4e0e8" />
            <rect x={0} y={0} width={11} height={22} fill="#f6d4c6" />
          </pattern>
        </defs>
      </svg>
      {LEGEND.map(([kind, a, b]) => (
        <div
          key={kind}
          style={{
            position: "absolute",
            left: a,
            top: 7,
            width: b - a,
            height: 30,
            boxSizing: "border-box",
            border: "1.5px solid #777",
            background: BG[kind],
            fontSize: 21,
            color: "#555",
            textAlign: "center",
            lineHeight: "27px",
          }}
        >
          {kind}
        </div>
      ))}
      {PANELS.map((p, k) => (
        <PanelChart key={k} p={p} k={k} />
      ))}
      {NOTES.map(([text, x, y, color], i) => (
        <div
          key={i}
          style={{ position: "absolute", left: x, top: y, transform: "translateY(-50%)", fontSize: i < 5 ? 17 : 15, color, whiteSpace: "nowrap" }}
        >
          {text}
        </div>
      ))}
    </div>
  );
}
